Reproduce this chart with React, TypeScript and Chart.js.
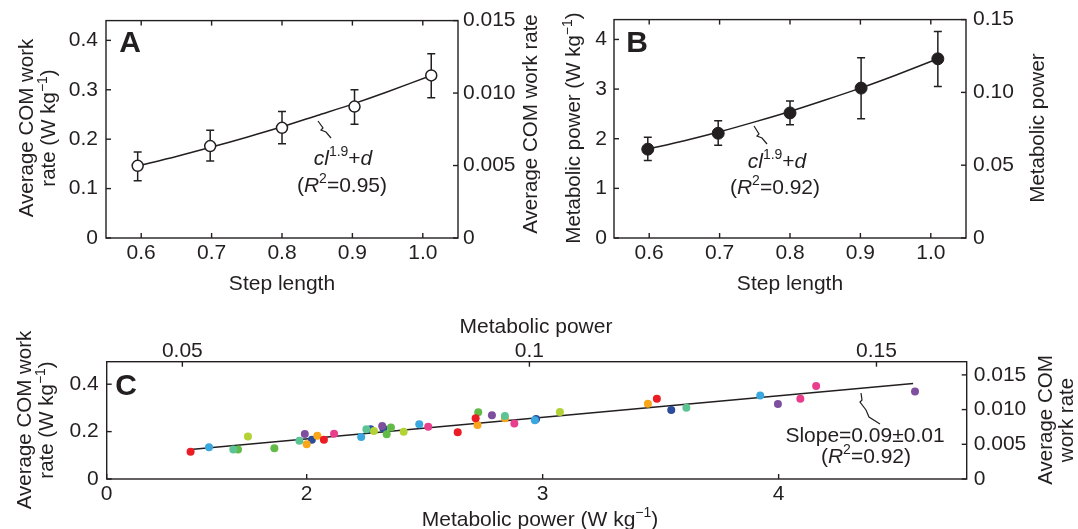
import React, { useEffect, useRef } from 'react';
import { Chart, registerables } from 'chart.js';
Chart.register(...registerables);

const FONT = '"Liberation Sans", Arial, sans-serif';
const INK = '#231f20';

// ---------- Panel A: COM work rate vs step length ----------
const A_STEP = [0.595, 0.698, 0.8, 0.903, 1.012];
const A_WORK = [0.146, 0.186, 0.223, 0.266, 0.329];
const A_WORK_LO = [0.116, 0.156, 0.191, 0.23, 0.284];
const A_WORK_HI = [0.174, 0.218, 0.256, 0.3, 0.373];
const A_FIT_X = [0.595, 0.65, 0.7, 0.75, 0.8, 0.85, 0.9, 0.95, 1.012];
const A_FIT_Y = [0.146, 0.165, 0.184, 0.204, 0.225, 0.248, 0.271, 0.296, 0.329];
const A_X_TICKS = [0.6, 0.7, 0.8, 0.9, 1.0];
const A_X_LABELS = ['0.6', '0.7', '0.8', '0.9', '1.0'];
const A_Y_TICKS = [0, 0.1, 0.2, 0.3, 0.4];
const A_Y_LABELS = ['0', '0.1', '0.2', '0.3', '0.4'];
const A_Y2_TICKS = [0, 0.005, 0.01, 0.015];
const A_Y2_LABELS = ['0', '0.005', '0.010', '0.015'];

// ---------- Panel B: metabolic power vs step length ----------
const B_STEP = [0.598, 0.698, 0.8, 0.901, 1.01];
const B_POWER = [1.79, 2.11, 2.52, 3.02, 3.61];
const B_POWER_LO = [1.56, 1.87, 2.28, 2.4, 3.05];
const B_POWER_HI = [2.03, 2.36, 2.76, 3.63, 4.16];
const B_FIT_X = [0.598, 0.65, 0.7, 0.75, 0.8, 0.85, 0.9, 0.95, 1.01];
const B_FIT_Y = [1.79, 1.96, 2.14, 2.34, 2.55, 2.78, 3.02, 3.28, 3.61];
const B_X_TICKS = [0.6, 0.7, 0.8, 0.9, 1.0];
const B_X_LABELS = ['0.6', '0.7', '0.8', '0.9', '1.0'];
const B_Y_TICKS = [0, 1, 2, 3, 4];
const B_Y_LABELS = ['0', '1', '2', '3', '4'];
const B_Y2_TICKS = [0, 0.05, 0.1, 0.15];
const B_Y2_LABELS = ['0', '0.05', '0.10', '0.15'];

// ---------- Panel C: COM work rate vs metabolic power ----------
const C_POWER = [
  1.508, 2.073, 2.64, 2.716, 3.484,
  1.586, 2.231, 2.477, 2.967, 3.922,
  1.689, 1.969, 2.253, 2.84, 3.609,
  1.709, 1.863, 2.339, 2.357, 2.727,
  1.751, 2.285, 2.411, 3.073,
  1.992, 2.32, 2.785, 3.997, 4.578,
  2.0, 2.045, 2.724, 2.84, 3.446,
  2.022, 2.271, 2.325, 2.972, 3.545,
  2.116, 2.515, 2.88, 4.092, 4.159,
];
const C_WORK = [
  0.115, 0.166, 0.197, 0.256, 0.339,
  0.134, 0.177, 0.231, 0.248, 0.352,
  0.125, 0.161, 0.21, 0.266, 0.301,
  0.124, 0.13, 0.189, 0.217, 0.282,
  0.179, 0.203, 0.199, 0.283,
  0.19, 0.224, 0.269, 0.316, 0.369,
  0.147, 0.183, 0.228, 0.256, 0.318,
  0.166, 0.21, 0.213, 0.253, 0.291,
  0.191, 0.22, 0.234, 0.339, 0.392,
];
const C_SUBJECT = [
  0, 0, 0, 0, 0,
  1, 1, 1, 1, 1,
  2, 2, 2, 2, 2,
  3, 3, 3, 3, 3,
  4, 4, 4, 4,
  5, 5, 5, 5, 5,
  6, 6, 6, 6, 6,
  7, 7, 7, 7, 7,
  8, 8, 8, 8, 8,
];
const C_FIT_X = [1.508, 4.57];
const C_FIT_Y = [0.125, 0.403];
const C_X_MIN = 1.1525;
const C_X_TICKS = [C_X_MIN, 2, 3, 4];
const C_X_LABELS = ['0', '2', '3', '4'];
const C_X2_TICKS = [0.05, 0.1, 0.15];
const C_X2_LABELS = ['0.05', '0.1', '0.15'];
const C_Y_TICKS = [0, 0.2, 0.4];
const C_Y_LABELS = ['0', '0.2', '0.4'];
const C_Y2_TICKS = [0, 0.005, 0.01, 0.015];
const C_Y2_LABELS = ['0', '0.005', '0.010', '0.015'];

const SUBJECT_COLORS = ['#ec1c24', '#3aa7de', '#5cc494', '#62bb46', '#b3d236', '#7f4f9f', '#f9a61a', '#2b4c9b', '#e83e8c'];

// ---------- helpers ----------
type Part = { t: string; i?: boolean; b?: boolean; sup?: boolean };
type TextItem = { parts: Part[]; x: number; y: number; rot?: number; size?: number };

function drawRich(ctx: CanvasRenderingContext2D, it: TextItem) {
  const size = it.size ?? 20;
  const fontOf = (p: Part) => `${p.i ? 'italic ' : ''}${p.b ? 'bold ' : ''}${p.sup ? Math.round(size * 0.68) : size}px ${FONT}`;
  const widths: number[] = [];
  let total = 0;
  for (const p of it.parts) {
    ctx.font = fontOf(p);
    const w = ctx.measureText(p.t).width;
    widths.push(w);
    total += w;
  }
  ctx.save();
  ctx.translate(it.x, it.y);
  if (it.rot) ctx.rotate(it.rot);
  ctx.fillStyle = INK;
  ctx.textAlign = 'left';
  ctx.textBaseline = 'alphabetic';
  let x = -total / 2;
  const base = size * 0.36;
  it.parts.forEach((p, k) => {
    ctx.font = fontOf(p);
    ctx.fillText(p.t, x, p.sup ? base - size * 0.4 : base);
    x += widths[k];
  });
  ctx.restore();
}

const decorPlugin = {
  id: 'figDecor',
  beforeDatasetsDraw(chart: any, _a: any, opts: any) {
    const ctx = chart.ctx as CanvasRenderingContext2D;
    (opts.errorBars || []).forEach((eb: any) => {
      const xs = chart.scales[eb.xAxis || 'x'];
      const ys = chart.scales[eb.yAxis || 'y'];
      ctx.save();
      ctx.strokeStyle = INK;
      ctx.lineWidth = 1.5;
      eb.x.forEach((xv: number, i: number) => {
        const px = xs.getPixelForValue(xv);
        const lo = ys.getPixelForValue(eb.lo[i]);
        const hi = ys.getPixelForValue(eb.hi[i]);
        ctx.beginPath();
        ctx.moveTo(px, lo); ctx.lineTo(px, hi);
        ctx.moveTo(px - 4, lo); ctx.lineTo(px + 4, lo);
        ctx.moveTo(px - 4, hi); ctx.lineTo(px + 4, hi);
        ctx.stroke();
      });
      ctx.restore();
    });
  },
  afterDraw(chart: any, _a: any, opts: any) {
    const ctx = chart.ctx as CanvasRenderingContext2D;
    const ca = chart.chartArea;
    ctx.save();
    ctx.strokeStyle = INK;
    ctx.lineWidth = 1.4;
    ctx.strokeRect(ca.left, ca.top, ca.right - ca.left, ca.bottom - ca.top);
    const L = 5;
    (opts.tickMarks || []).forEach((tm: any) => {
      const s = chart.scales[tm.scale];
      s.ticks.forEach((t: any) => {
        const p = s.getPixelForValue(t.value);
        ctx.beginPath();
        if (tm.side === 'bottom') { ctx.moveTo(p, ca.bottom); ctx.lineTo(p, ca.bottom - L); }
        if (tm.side === 'top') { ctx.moveTo(p, ca.top); ctx.lineTo(p, ca.top + L); }
        if (tm.side === 'left') { ctx.moveTo(ca.left, p); ctx.lineTo(ca.left + L, p); }
        if (tm.side === 'right') { ctx.moveTo(ca.right, p); ctx.lineTo(ca.right - L, p); }
        ctx.stroke();
      });
    });
    ctx.lineWidth = 1.2;
    (opts.squiggles || []).forEach((sq: number[][]) => {
      ctx.beginPath();
      sq.forEach((pt, i) => (i === 0 ? ctx.moveTo(pt[0], pt[1]) : ctx.lineTo(pt[0], pt[1])));
      ctx.stroke();
    });
    ctx.restore();
    (opts.texts || []).forEach((t: TextItem) => drawRich(ctx, t));
  },
};

function axis(pos: string, min: number, max: number, values: number[], labels: string[], size: number, pad: number) {
  const vertical = pos === 'left' || pos === 'right';
  return {
    type: 'linear',
    position: pos,
    min,
    max,
    bounds: 'data',
    afterBuildTicks: (s: any) => { s.ticks = values.map((v) => ({ value: v })); },
    afterFit: (s: any) => { if (vertical) s.width = size; else s.height = size; },
    ticks: {
      callback: (_v: any, i: number) => labels[i],
      font: { family: FONT, size: 21 },
      color: INK,
      padding: pad,
      autoSkip: false,
      maxRotation: 0,
      minRotation: 0,
    },
    grid: { display: false, drawTicks: false },
    border: { display: false },
  };
}

const pts = (xs: number[], ys: number[]) => xs.map((x, i) => ({ x, y: ys[i] }));
const ROT = -Math.PI / 2;
const sup = (t: string): Part => ({ t, sup: true });

function configA(): any {
  return {
    type: 'scatter',
    data: {
      datasets: [
        { data: pts(A_STEP, A_WORK), pointRadius: 5.5, pointBackgroundColor: '#fff', pointBorderColor: INK, pointBorderWidth: 1.5, showLine: false },
        { data: pts(A_FIT_X, A_FIT_Y), showLine: true, pointRadius: 0, borderColor: INK, borderWidth: 1.5, tension: 0.3 },
      ],
    },
    options: {
      animation: false,
      responsive: false,
      events: [],
      layout: { padding: { top: 19, left: 0, right: 0, bottom: 0 } },
      scales: {
        x: axis('bottom', 0.55, 1.05, A_X_TICKS, A_X_LABELS, 62, 3),
        y: axis('left', 0, 0.44, A_Y_TICKS, A_Y_LABELS, 106, 8),
        y2: axis('right', 0, 0.015, A_Y2_TICKS, A_Y2_LABELS, 82, 5),
      },
      plugins: {
        legend: { display: false },
        tooltip: { enabled: false },
        figDecor: {
          errorBars: [{ x: A_STEP, lo: A_WORK_LO, hi: A_WORK_HI }],
          tickMarks: [{ scale: 'x', side: 'bottom' }, { scale: 'x', side: 'top' }, { scale: 'y', side: 'left' }, { scale: 'y2', side: 'right' }],
          squiggles: [[[318, 121], [323, 128], [321, 130], [326, 132], [331, 138]]],
          texts: [
            { parts: [{ t: 'A', b: true }], x: 130, y: 41, size: 30 },
            { parts: [{ t: 'cl', i: true }, sup('1.9'), { t: '+' }, { t: 'd', i: true }], x: 343, y: 157, size: 21 },
            { parts: [{ t: '(' }, { t: 'R', i: true }, sup('2'), { t: '=0.95)' }], x: 342, y: 184, size: 21 },
            { parts: [{ t: 'Step length' }], x: 282, y: 282, size: 21 },
            { parts: [{ t: 'Average COM work' }], x: 26, y: 128, rot: ROT, size: 20.5 },
            { parts: [{ t: 'rate (W kg' }, sup('\u22121'), { t: ')' }], x: 48, y: 128, rot: ROT, size: 20.5 },
            { parts: [{ t: 'Average COM work rate' }], x: 530, y: 124, rot: ROT, size: 20.5 },
          ],
        },
      },
    },
    plugins: [decorPlugin],
  };
}

function configB(): any {
  return {
    type: 'scatter',
    data: {
      datasets: [
        { data: pts(B_STEP, B_POWER), pointRadius: 6, pointBackgroundColor: INK, pointBorderColor: INK, pointBorderWidth: 1, showLine: false },
        { data: pts(B_FIT_X, B_FIT_Y), showLine: true, pointRadius: 0, borderColor: INK, borderWidth: 1.5, tension: 0.3 },
      ],
    },
    options: {
      animation: false,
      responsive: false,
      events: [],
      layout: { padding: { top: 19, left: 0, right: 0, bottom: 0 } },
      scales: {
        x: axis('bottom', 0.55, 1.05, B_X_TICKS, B_X_LABELS, 62, 3),
        y: axis('left', 0, 4.4, B_Y_TICKS, B_Y_LABELS, 74, 7),
        y2: axis('right', 0, 0.15, B_Y2_TICKS, B_Y2_LABELS, 112, 7),
      },
      plugins: {
        legend: { display: false },
        tooltip: { enabled: false },
        figDecor: {
          errorBars: [{ x: B_STEP, lo: B_POWER_LO, hi: B_POWER_HI }],
          tickMarks: [{ scale: 'x', side: 'bottom' }, { scale: 'x', side: 'top' }, { scale: 'y', side: 'left' }, { scale: 'y2', side: 'right' }],
          squiggles: [[[214, 126], [219, 134], [217, 136], [222, 138], [227, 144]]],
          texts: [
            { parts: [{ t: 'B', b: true }], x: 97, y: 41, size: 30 },
            { parts: [{ t: 'cl', i: true }, sup('1.9'), { t: '+' }, { t: 'd', i: true }], x: 237, y: 160, size: 21 },
            { parts: [{ t: '(' }, { t: 'R', i: true }, sup('2'), { t: '=0.92)' }], x: 235, y: 186, size: 21 },
            { parts: [{ t: 'Step length' }], x: 250, y: 282, size: 21 },
            { parts: [{ t: 'Metabolic power (W kg' }, sup('\u22121'), { t: ')' }], x: 33, y: 128, rot: ROT, size: 20.5 },
            { parts: [{ t: 'Metabolic power' }], x: 497, y: 128, rot: ROT, size: 20.5 },
          ],
        },
      },
    },
    plugins: [decorPlugin],
  };
}

function configC(): any {
  const subjectSets = SUBJECT_COLORS.map((color, s) => {
    const idx = C_SUBJECT.map((g, i) => (g === s ? i : -1)).filter((i) => i >= 0);
    return {
      data: idx.map((i) => ({ x: C_POWER[i], y: C_WORK[i] })),
      pointRadius: 4,
      pointBackgroundColor: color,
      pointBorderColor: color,
      pointBorderWidth: 0,
      showLine: false,
    };
  });
  return {
    type: 'scatter',
    data: {
      datasets: [
        ...subjectSets,
        { data: pts(C_FIT_X, C_FIT_Y), showLine: true, pointRadius: 0, borderColor: INK, borderWidth: 1.5 },
      ],
    },
    options: {
      animation: false,
      responsive: false,
      events: [],
      layout: { padding: 0 },
      scales: {
        x: axis('bottom', C_X_MIN, 4.797, C_X_TICKS, C_X_LABELS, 50, 3),
        x2: axis('top', 0.0391, 0.163, C_X2_TICKS, C_X2_LABELS, 61.7, -2),
        y: axis('left', 0, 0.495, C_Y_TICKS, C_Y_LABELS, 106.7, 8),
        y2: axis('right', 0, 0.0169, C_Y2_TICKS, C_Y2_LABELS, 111.3, 7),
      },
      plugins: {
        legend: { display: false },
        tooltip: { enabled: false },
        figDecor: {
          tickMarks: [{ scale: 'x', side: 'bottom' }, { scale: 'x2', side: 'top' }, { scale: 'y', side: 'left' }, { scale: 'y2', side: 'right' }],
          squiggles: [[[861, 93], [862, 100], [860, 102], [866, 110], [869, 117], [880, 124]]],
          texts: [
            { parts: [{ t: 'C', b: true }], x: 126, y: 84, size: 30 },
            { parts: [{ t: 'Slope=0.09\u00b10.01' }], x: 865, y: 134, size: 21 },
            { parts: [{ t: '(' }, { t: 'R', i: true }, sup('2'), { t: '=0.92)' }], x: 866, y: 155, size: 21 },
            { parts: [{ t: 'Metabolic power' }], x: 536, y: 25, size: 21 },
            { parts: [{ t: 'Metabolic power (W kg' }, sup('\u22121'), { t: ')' }], x: 540, y: 218, size: 21 },
            { parts: [{ t: 'Average COM work' }], x: 24, y: 120, rot: ROT, size: 20.5 },
            { parts: [{ t: 'rate (W kg' }, sup('\u22121'), { t: ')' }], x: 46, y: 120, rot: ROT, size: 20.5 },
            { parts: [{ t: 'Average COM' }], x: 1045, y: 120, rot: ROT, size: 20.5 },
            { parts: [{ t: 'work rate' }], x: 1066, y: 120, rot: ROT, size: 20.5 },
          ],
        },
      },
    },
    plugins: [decorPlugin],
  };
}

function Panel(props: { cfg: () => any; left: number; top: number; width: number; height: number }) {
  const ref = useRef<HTMLCanvasElement>(null);
  useEffect(() => {
    const chart = new Chart(ref.current as HTMLCanvasElement, props.cfg());
    return () => chart.destroy();
  }, []);
  return (
    <canvas
      ref={ref}
      width={props.width}
      height={props.height}
      style={{ position: 'absolute', left: props.left, top: props.top, width: props.width, height: props.height, display: 'block' }}
    />
  );
}

export default function App() {
  return (
    <div style={{ position: 'fixed', left: 0, top: 0, width: 1078, height: 529, background: '#fff', overflow: 'hidden' }}>
      <Panel cfg={configA} left={0} top={0} width={540} height={300} />
      <Panel cfg={configB} left={540} top={0} width={538} height={300} />
      <Panel cfg={configC} left={0} top={300} width={1078} height={229} />
    </div>
  );
}
